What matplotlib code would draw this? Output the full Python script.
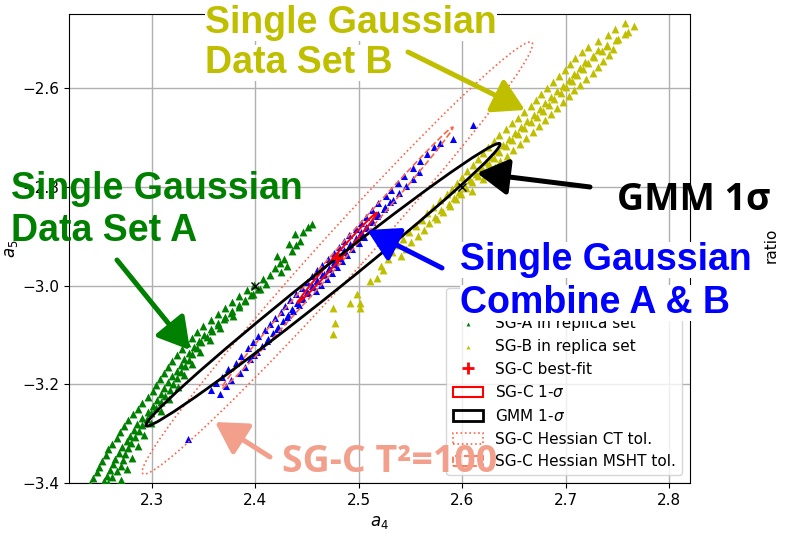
import numpy as np
import matplotlib
matplotlib.use("Agg")
import matplotlib.pyplot as plt
from matplotlib.patches import Ellipse, FancyArrowPatch

W, H = 785, 537

# ---- SG-A replica fits (a4, a5) ----
sga_a4 = [
    2.236, 2.252, 2.261,
    2.240, 2.249, 2.258, 2.266,
    2.243, 2.254, 2.262, 2.270,
    2.247, 2.257, 2.266,
    2.249, 2.260, 2.270, 2.276,
    2.252, 2.263, 2.272,
    2.256, 2.265, 2.274, 2.281,
    2.258, 2.268, 2.277,
    2.262, 2.271, 2.280, 2.287,
    2.266, 2.276, 2.284,
    2.269, 2.279, 2.288, 2.293,
    2.273, 2.283, 2.291,
    2.277, 2.286, 2.295, 2.299,
    2.282, 2.291, 2.299,
    2.287, 2.296, 2.304, 2.309,
    2.291, 2.301, 2.309,
    2.296, 2.305, 2.313, 2.317,
    2.301, 2.309, 2.318,
    2.304, 2.312, 2.321, 2.325,
    2.308, 2.316, 2.324,
    2.312, 2.320, 2.328, 2.331,
    2.316, 2.324, 2.332,
    2.320, 2.328, 2.336, 2.339,
    2.324, 2.331, 2.339,
    2.329, 2.336, 2.344, 2.347,
    2.334, 2.341, 2.348,
    2.339, 2.346, 2.353, 2.356,
    2.344, 2.351, 2.358,
    2.350, 2.357, 2.364, 2.366,
    2.357, 2.364, 2.370,
    2.364, 2.371, 2.377, 2.379,
    2.371, 2.378, 2.384,
    2.378, 2.384, 2.390,
    2.384, 2.390, 2.396,
    2.392, 2.398, 2.403,
    2.399, 2.405, 2.410,
    2.408, 2.414, 2.419, 2.424, 2.428, 2.431, 2.436, 2.439,
    2.443, 2.438, 2.446, 2.451, 2.455, 2.421, 2.433, 2.425,
]
sga_a5 = [
    -3.415, -3.422, -3.413,
    -3.402, -3.409, -3.400, -3.407,
    -3.389, -3.396, -3.387, -3.394,
    -3.378, -3.385, -3.376,
    -3.367, -3.374, -3.365, -3.372,
    -3.355, -3.362, -3.353,
    -3.344, -3.351, -3.342, -3.349,
    -3.332, -3.339, -3.330,
    -3.320, -3.327, -3.318, -3.325,
    -3.308, -3.315, -3.306,
    -3.297, -3.304, -3.295, -3.302,
    -3.285, -3.292, -3.283,
    -3.273, -3.280, -3.271, -3.278,
    -3.261, -3.268, -3.259,
    -3.249, -3.256, -3.247, -3.254,
    -3.237, -3.244, -3.235,
    -3.225, -3.232, -3.223, -3.230,
    -3.213, -3.220, -3.211,
    -3.201, -3.208, -3.199, -3.206,
    -3.189, -3.196, -3.187,
    -3.177, -3.184, -3.175, -3.182,
    -3.165, -3.172, -3.163,
    -3.153, -3.160, -3.151, -3.158,
    -3.141, -3.148, -3.139,
    -3.129, -3.136, -3.127, -3.134,
    -3.117, -3.124, -3.115,
    -3.105, -3.112, -3.103, -3.110,
    -3.093, -3.100, -3.091,
    -3.081, -3.088, -3.079, -3.086,
    -3.069, -3.076, -3.067,
    -3.057, -3.064, -3.055, -3.062,
    -3.045, -3.052, -3.043,
    -3.033, -3.040, -3.031,
    -3.021, -3.028, -3.019,
    -3.009, -3.016, -3.007,
    -2.999, -3.006, -2.997,
    -2.986, -2.979, -2.965, -2.953, -2.945, -2.959, -2.929, -2.917,
    -2.909, -2.896, -2.892, -2.880, -2.874, -2.939, -2.915, -2.972,
]

# ---- SG-B replica fits (a4, a5) ----
sgb_a4 = [
    2.757, 2.766,
    2.748, 2.760,
    2.741, 2.751, 2.757,
    2.731, 2.740, 2.749,
    2.722, 2.731, 2.740, 2.746,
    2.716, 2.726, 2.735, 2.742,
    2.709, 2.719, 2.727, 2.736,
    2.704, 2.714, 2.722, 2.731,
    2.699, 2.708, 2.717, 2.726,
    2.694, 2.703, 2.711, 2.720,
    2.688, 2.697, 2.706, 2.714,
    2.682, 2.692, 2.700, 2.708,
    2.676, 2.686, 2.695, 2.703,
    2.671, 2.680, 2.689, 2.697,
    2.666, 2.675, 2.684, 2.692,
    2.660, 2.669, 2.678, 2.686,
    2.654, 2.663, 2.672, 2.680,
    2.648, 2.657, 2.666, 2.674,
    2.642, 2.651, 2.660, 2.668,
    2.636, 2.645, 2.654, 2.662,
    2.631, 2.639, 2.648, 2.656,
    2.625, 2.634, 2.642, 2.649,
    2.620, 2.628, 2.636, 2.643,
    2.615, 2.623, 2.631, 2.637,
    2.610, 2.618, 2.626, 2.632,
    2.605, 2.613, 2.620,
    2.600, 2.608, 2.615, 2.620,
    2.595, 2.602, 2.609,
    2.590, 2.597, 2.604, 2.609,
    2.585, 2.592, 2.599,
    2.579, 2.587, 2.594,
    2.572, 2.580, 2.588,
    2.566, 2.574, 2.581,
    2.561, 2.568, 2.576,
    2.555, 2.563,
    2.549, 2.557,
    2.543, 2.551,
    2.538, 2.546,
    2.532, 2.541,
    2.528,
    2.522,
    2.518, 2.523, 2.511, 2.498, 2.492, 2.501, 2.501, 2.475, 2.477, 2.475,
]
sgb_a5 = [
    -2.467, -2.474,
    -2.479, -2.486,
    -2.492, -2.499, -2.490,
    -2.504, -2.511, -2.502,
    -2.515, -2.522, -2.513, -2.520,
    -2.527, -2.534, -2.525, -2.532,
    -2.539, -2.546, -2.537, -2.544,
    -2.551, -2.558, -2.549, -2.556,
    -2.563, -2.570, -2.561, -2.568,
    -2.575, -2.582, -2.573, -2.580,
    -2.587, -2.594, -2.585, -2.592,
    -2.599, -2.606, -2.597, -2.604,
    -2.611, -2.618, -2.609, -2.616,
    -2.623, -2.630, -2.621, -2.628,
    -2.635, -2.642, -2.633, -2.640,
    -2.647, -2.654, -2.645, -2.652,
    -2.659, -2.666, -2.657, -2.664,
    -2.671, -2.678, -2.669, -2.676,
    -2.683, -2.690, -2.681, -2.688,
    -2.695, -2.702, -2.693, -2.700,
    -2.707, -2.714, -2.705, -2.712,
    -2.719, -2.726, -2.717, -2.724,
    -2.731, -2.738, -2.729, -2.736,
    -2.743, -2.750, -2.741, -2.748,
    -2.755, -2.762, -2.753, -2.760,
    -2.767, -2.774, -2.765,
    -2.779, -2.786, -2.777, -2.784,
    -2.791, -2.798, -2.789,
    -2.803, -2.810, -2.801, -2.808,
    -2.815, -2.822, -2.813,
    -2.827, -2.834, -2.825,
    -2.840, -2.847, -2.838,
    -2.853, -2.860, -2.851,
    -2.866, -2.873, -2.864,
    -2.879, -2.886,
    -2.892, -2.899,
    -2.905, -2.912,
    -2.918, -2.925,
    -2.932, -2.939,
    -2.945,
    -2.959,
    -2.984, -2.969, -2.990, -3.016, -3.036, -3.036, -3.045, -3.045, -3.075, -3.097,
]

# ---- SG-C (combined A & B) replica fits (a4, a5) ----
sgc_a4 = [
    2.357, 2.366,
    2.362, 2.372,
    2.368, 2.377,
    2.374, 2.385,
    2.381, 2.390,
    2.386, 2.395, 2.399,
    2.393, 2.402,
    2.398, 2.407, 2.411,
    2.403, 2.412,
    2.409, 2.417, 2.421,
    2.414, 2.422,
    2.419, 2.427, 2.431,
    2.425, 2.432, 2.437,
    2.429, 2.436, 2.442,
    2.434, 2.440, 2.446,
    2.439, 2.445, 2.451,
    2.445, 2.450, 2.456, 2.459,
    2.450, 2.455, 2.460, 2.464,
    2.455, 2.460, 2.465, 2.469,
    2.460, 2.466, 2.471, 2.474,
    2.465, 2.471, 2.476, 2.479,
    2.470, 2.476, 2.481, 2.484,
    2.476, 2.481, 2.487, 2.489,
    2.481, 2.486, 2.492, 2.494,
    2.486, 2.492, 2.497, 2.500,
    2.491, 2.497, 2.502, 2.505,
    2.497, 2.502, 2.508,
    2.502, 2.507, 2.513,
    2.507, 2.513, 2.518,
    2.513, 2.519, 2.524,
    2.519, 2.525, 2.530,
    2.526, 2.533,
    2.531, 2.539,
    2.538, 2.546,
    2.544, 2.552,
    2.552, 2.558,
    2.559,
    2.566,
    2.573,
    2.591, 2.610, 2.579, 2.335,
]
sgc_a5 = [
    -3.212, -3.219,
    -3.197, -3.204,
    -3.185, -3.192,
    -3.169, -3.176,
    -3.157, -3.164,
    -3.142, -3.149, -3.140,
    -3.127, -3.134,
    -3.115, -3.122, -3.113,
    -3.102, -3.109,
    -3.089, -3.096, -3.087,
    -3.077, -3.084,
    -3.065, -3.072, -3.063,
    -3.053, -3.060, -3.051,
    -3.041, -3.048, -3.039,
    -3.029, -3.036, -3.027,
    -3.017, -3.024, -3.015,
    -3.005, -3.012, -3.003, -3.010,
    -2.993, -3.000, -2.991, -2.998,
    -2.981, -2.988, -2.979, -2.986,
    -2.969, -2.976, -2.967, -2.974,
    -2.957, -2.964, -2.955, -2.962,
    -2.945, -2.952, -2.943, -2.950,
    -2.933, -2.940, -2.931, -2.938,
    -2.921, -2.928, -2.919, -2.926,
    -2.909, -2.916, -2.907, -2.914,
    -2.897, -2.904, -2.895, -2.902,
    -2.885, -2.892, -2.883,
    -2.873, -2.880, -2.871,
    -2.861, -2.868, -2.859,
    -2.847, -2.854, -2.845,
    -2.833, -2.840, -2.831,
    -2.819, -2.826,
    -2.805, -2.812,
    -2.791, -2.798,
    -2.777, -2.784,
    -2.762, -2.769,
    -2.747,
    -2.732,
    -2.719,
    -2.702, -2.675, -2.710, -3.310,
]

# ---- Gaussian summaries: (mean a4, mean a5, sigma a4, sigma a5, correlation) ----
sgc_best_a4, sgc_best_a5 = 2.4794, -2.9433
sgc_1sigma = (2.4794, -2.9433, 0.03822, 0.09137, 0.9951)
sgc_ct_tol = (2.4794, -2.9438, 0.18858, 0.43814, 0.9885)
sgc_msht_tol = (2.4794, -2.9433, 0.11167, 0.26483, 0.9976)
gmm_1sigma = (2.4655, -2.9980, 0.17116, 0.28669, 0.9937)
gmm_means_a4 = [2.40, 2.60]
gmm_means_a5 = [-3.00, -2.80]

x_ticks = [2.3, 2.4, 2.5, 2.6, 2.7, 2.8]
y_ticks = [-3.4, -3.2, -3.0, -2.8, -2.6]


def cov_ellipse(params, **kw):
    mx, my, sx, sy, rho = params
    cov = np.array([[sx * sx, rho * sx * sy], [rho * sx * sy, sy * sy]])
    vals, vecs = np.linalg.eigh(cov)
    order = vals.argsort()[::-1]
    vals, vecs = vals[order], vecs[:, order]
    angle = np.degrees(np.arctan2(vecs[1, 0], vecs[0, 0]))
    return Ellipse((mx, my), 2 * np.sqrt(vals[0]), 2 * np.sqrt(vals[1]),
                   angle=angle, fill=False, **kw)


def fpos(px, py):
    return px / W, 1 - py / H


fig = plt.figure(figsize=(W / 100, H / 100), dpi=100)
ax = fig.add_axes([69 / W, 1 - 483 / H, (690 - 69) / W, (483 - 14) / H])

ax.scatter(sgc_a4, sgc_a5, s=26, marker='^', color='blue', linewidths=0,
           label='SG-C in replica set', zorder=3)
ax.scatter(sga_a4, sga_a5, s=32, marker='^', color='green', linewidths=0,
           label='SG-A in replica set', zorder=3)
ax.scatter(sgb_a4, sgb_a5, s=32, marker='^', color='y', linewidths=0,
           label='SG-B in replica set', zorder=3)
ax.plot([sgc_best_a4], [sgc_best_a5], ls='none', marker='+', ms=8, mew=2,
        color='red', label='SG-C best-fit', zorder=6)
ax.plot(gmm_means_a4, gmm_means_a5, ls='none', marker='x', ms=6, mew=1.0,
        color='black', zorder=6)

e1 = cov_ellipse(sgc_1sigma, edgecolor='red', lw=1.5, label='SG-C 1-$\\sigma$', zorder=5)
e2 = cov_ellipse(gmm_1sigma, edgecolor='black', lw=2.0, label='GMM 1-$\\sigma$', zorder=5)
e3 = cov_ellipse(sgc_ct_tol, edgecolor='tomato', lw=1.2, ls=':',
                 label='SG-C Hessian CT tol.', zorder=4)
e4 = cov_ellipse(sgc_msht_tol, edgecolor='tomato', lw=1.2, ls='--',
                 label='SG-C Hessian MSHT tol.', zorder=4)
for e in (e1, e2, e3, e4):
    ax.add_patch(e)

ax.set_xlim(2.2201, 2.8201)
ax.set_ylim(-3.40, -2.449)
ax.set_xticks(x_ticks)
ax.set_yticks(y_ticks)
ax.grid(True, color='#b0b0b0', lw=1.0)
ax.set_axisbelow(True)
ax.tick_params(labelsize=11)
ax.set_xlabel('$a_4$', fontsize=12)
ax.set_ylabel('$a_5$', fontsize=12, labelpad=2)
leg = ax.legend(loc='lower right', fontsize=11)
for h in leg.legend_handles[:3]:
    h.set_sizes([8])

fig.text(*fpos(771, 245), 'ratio', rotation=90, ha='center', va='center', fontsize=11)

# annotation labels
big = dict(fontsize=27, fontweight='bold', family='Liberation Sans',
           ha='left', va='baseline')
white = dict(boxstyle='square,pad=0', fc='white', ec='none')
fig.text(*fpos(205, 33), 'Single Gaussian', color='#bfbf00', bbox=white, **big)
fig.text(*fpos(205, 73), 'Data Set B', color='#bfbf00', bbox=white, **big)
fig.text(*fpos(11, 199), 'Single Gaussian', color='green', **big)
fig.text(*fpos(11, 241), 'Data Set A', color='green', **big)
fig.text(*fpos(460, 270), 'Single Gaussian', color='blue', bbox=white, **big)
fig.text(*fpos(460, 313), 'Combine A & B', color='blue', bbox=white, **big)
fig.text(*fpos(617, 210), 'GMM 1σ', color='black', fontsize=27, fontweight='bold',
         family='Open Sans', ha='left', va='baseline')
fig.text(*fpos(282, 472), 'SG-C T²=100', color='#f2a08c', fontsize=27,
         fontweight='bold', family='Open Sans', ha='left', va='baseline')

arrows = [
    ((408, 52), (525, 110), '#bfbf00'),
    ((117, 260), (190, 350), 'green'),
    ((590, 187), (477, 173), 'black'),
    ((442, 268), (367, 230), 'blue'),
    ((270, 457), (215, 422), '#f2a08c'),
]
for start, tip, col in arrows:
    arr = FancyArrowPatch(fpos(*start), fpos(*tip), transform=fig.transFigure,
                          arrowstyle='-|>,head_length=0.95,head_width=0.55',
                          mutation_scale=20, lw=3.6, color=col,
                          shrinkA=0, shrinkB=0, zorder=10)
    fig.add_artist(arr)

fig.savefig('out.png', dpi=100)
